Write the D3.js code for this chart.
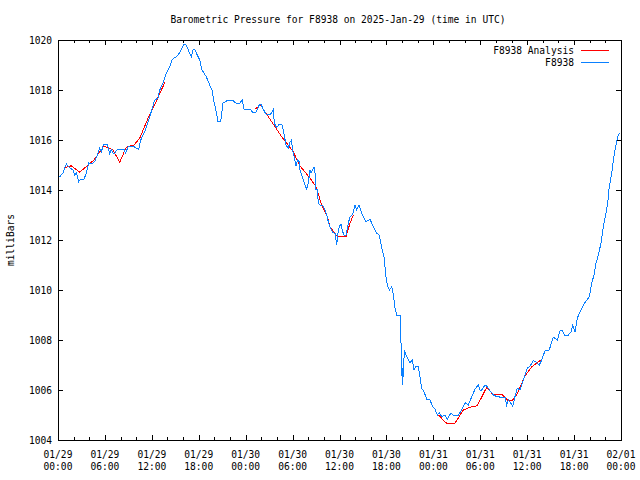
<!DOCTYPE html>
<html>
<head>
<meta charset="utf-8">
<script src="https://cdn.jsdelivr.net/npm/d3@7"></script>
<style>
  body { margin: 0; background: #fff; }
  svg { display: block; }
  text { font-family: "DejaVu Sans Mono", "Liberation Mono", monospace; font-size: 9.6px; fill: #000; }
</style>
</head>
<body>
<svg id="chart" width="640" height="480"></svg>
<script>
// ---- data (hours since 2025-01-29 00:00 UTC, pressure in millibars) ----
const stationHours = [0.22,0.64,0.86,1.06,1.50,1.92,2.14,2.34,2.65,2.90,3.33,3.62,3.93,4.26,4.69,5.03,5.33,5.54,5.84,6.30,6.61,6.82,7.16,7.58,8.44,8.66,8.95,9.72,10.01,10.32,10.58,11.09,11.51,11.93,12.37,12.79,13.01,13.43,13.85,14.28,14.62,15.13,15.56,16.11,16.41,16.75,17.05,17.26,17.48,17.81,18.12,18.42,18.97,19.40,19.69,19.95,20.24,20.46,20.81,21.10,21.74,22.38,22.60,23.15,23.57,23.79,24.55,24.90,25.32,25.74,25.96,26.25,26.60,27.20,27.53,27.66,27.97,28.26,28.61,28.81,29.16,29.45,29.67,29.89,29.96,30.22,30.44,30.65,30.86,30.95,31.29,31.59,31.81,32.01,32.23,32.36,32.57,32.74,32.87,33.00,33.16,33.29,33.51,33.85,34.15,34.36,34.57,34.79,35.13,35.42,35.64,35.77,35.97,36.19,36.41,36.58,36.83,37.13,37.34,37.69,37.98,38.20,38.49,38.84,39.39,39.90,40.32,40.76,41.09,41.40,41.69,41.95,42.11,42.37,42.68,42.80,42.97,43.10,43.32,43.74,43.83,43.96,44.03,44.08,44.16,44.29,44.51,44.80,45.02,45.31,45.53,45.75,46.08,46.30,46.51,46.81,47.15,47.57,47.92,48.21,48.51,48.76,49.07,49.49,49.79,50.26,50.55,51.19,51.63,52.05,52.47,52.91,53.33,53.75,53.97,54.19,54.61,54.83,55.25,55.67,56.18,56.74,57.17,57.38,57.59,57.80,58.15,58.44,58.74,59.08,59.30,59.72,60.02,60.36,60.78,61.13,61.55,61.86,62.28,62.83,63.14,63.34,63.86,64.20,64.54,64.75,65.26,65.61,65.82,66.12,66.41,66.76,67.18,67.95,68.25,68.55,68.80,69.10,69.44,69.74,70.08,70.30,70.50,70.81,71.02,71.23,71.45,71.66,71.87];
const stationPressure = [1014.53,1014.68,1014.88,1015.04,1014.88,1014.80,1014.60,1014.69,1014.33,1014.44,1014.44,1014.68,1015.08,1015.04,1015.13,1015.40,1015.68,1015.53,1015.83,1015.83,1015.47,1015.60,1015.43,1015.63,1015.63,1015.47,1015.73,1015.73,1015.67,1015.63,1016.00,1016.33,1016.73,1017.13,1017.60,1017.67,1018.00,1018.27,1018.67,1018.93,1019.23,1019.33,1019.49,1019.84,1019.80,1019.53,1019.33,1019.60,1019.63,1019.40,1019.20,1018.80,1018.53,1018.20,1018.00,1017.53,1017.13,1016.73,1016.73,1017.47,1017.60,1017.60,1017.49,1017.44,1017.60,1017.24,1017.24,1017.11,1017.11,1017.40,1017.43,1017.23,1017.03,1017.03,1017.23,1016.67,1016.49,1016.63,1016.63,1016.40,1015.80,1015.67,1015.93,1016.00,1015.63,1015.33,1014.96,1015.20,1015.13,1014.80,1014.47,1014.20,1014.03,1014.29,1014.80,1014.67,1014.83,1014.91,1014.67,1014.00,1014.03,1013.47,1013.40,1013.40,1013.20,1013.00,1012.73,1012.53,1012.29,1012.27,1011.80,1012.20,1012.53,1012.64,1012.33,1012.20,1012.20,1012.67,1012.93,1013.03,1013.40,1013.20,1013.40,1013.07,1012.73,1012.83,1012.53,1012.27,1012.20,1011.67,1011.33,1010.53,1010.20,1010.00,1010.13,1010.00,1009.60,1009.27,1009.00,1009.00,1008.27,1006.93,1006.20,1006.87,1006.53,1007.60,1007.40,1007.20,1007.09,1007.20,1006.80,1006.93,1006.93,1006.53,1006.07,1005.93,1005.63,1005.60,1005.33,1005.23,1005.00,1005.09,1004.93,1005.00,1004.83,1005.09,1005.00,1005.00,1005.20,1005.49,1005.40,1005.73,1006.03,1006.20,1006.00,1006.00,1006.20,1006.16,1005.97,1005.80,1005.73,1005.71,1005.71,1005.40,1005.60,1005.53,1005.36,1005.73,1006.07,1006.00,1006.20,1006.60,1006.87,1006.96,1007.17,1007.13,1007.00,1007.20,1007.57,1007.60,1007.93,1008.11,1008.00,1008.36,1008.37,1008.20,1008.20,1008.33,1008.60,1008.33,1008.87,1009.13,1009.40,1009.73,1010.27,1010.60,1011.07,1011.40,1011.87,1012.53,1013.07,1013.47,1014.13,1014.67,1015.20,1015.60,1015.93,1016.20,1016.27];

// analysis series: null marks a gap between analysis segments
const analysisHours = [0.86,1.70,2.78,3.84,4.60,5.88,7.03,7.89,8.73,9.72,10.45,11.51,12.15,13.21,13.72,null,25.19,25.92,26.47,27.75,28.61,30.09,30.86,32.23,33.00,33.72,34.44,34.79,35.64,36.83,37.34,37.77,null,48.64,49.27,49.79,50.77,51.83,52.69,53.62,54.83,55.67,56.31,56.87,57.46,58.02,58.66,59.72,60.58,61.86];
const analysisPressure = [1014.89,1014.97,1014.71,1015.00,1015.20,1015.76,1015.60,1015.11,1015.71,1015.80,1016.07,1016.87,1017.27,1018.00,1018.33,null,1017.24,1017.40,1017.13,1016.53,1016.13,1015.53,1015.00,1014.47,1014.13,1013.40,1012.93,1012.53,1012.16,1012.13,1012.67,1013.00,null,1005.00,1004.80,1004.64,1004.67,1005.20,1005.31,1005.37,1006.11,1005.80,1005.83,1005.80,1005.60,1005.56,1005.80,1006.56,1006.93,1007.23];

const xTickDates = ["01/29","01/29","01/29","01/29","01/30","01/30","01/30","01/30","01/31","01/31","01/31","01/31","02/01"];
const xTickTimes = ["00:00","06:00","12:00","18:00","00:00","06:00","12:00","18:00","00:00","06:00","12:00","18:00","00:00"];
const yTicks = [1004,1006,1008,1010,1012,1014,1016,1018,1020];
const seriesNames = ["F8938 Analysis","F8938"];
const seriesColors = ["#ff0000","#0a80ff"];
const titleText = "Barometric Pressure for F8938 on 2025-Jan-29 (time in UTC)";
const yLabel = "milliBars";

// ---- chart ----
const start = Date.UTC(2025,0,29,0,0);
const HOUR = 3600000;
const toDate = h => new Date(start + h*HOUR);
const L = 58, R = 621, T = 40, B = 440;

const svg = d3.select("#chart");
const x = d3.scaleUtc().domain([toDate(0), toDate(72)]).range([L, R]);
const y = d3.scaleLinear().domain([1004, 1020]).range([B, T]);

const majorTicks = xTickTimes.map((_, i) => toDate(i*6));
const minorTicks = d3.range(0, 73, 2).filter(h => h % 6 !== 0).map(toDate);

function strip(g){ g.select(".domain").remove(); g.selectAll("line").attr("stroke","#000").attr("shape-rendering","crispEdges"); }

// bottom & top ticks (pointing inward)
svg.append("g").attr("transform",`translate(0,${B})`)
  .call(d3.axisBottom(x).tickValues(majorTicks).tickSize(-5).tickFormat("")).call(strip);
svg.append("g").attr("transform",`translate(0,${B})`)
  .call(d3.axisBottom(x).tickValues(minorTicks).tickSize(-3).tickFormat("")).call(strip);
svg.append("g").attr("transform",`translate(0,${T})`)
  .call(d3.axisTop(x).tickValues(majorTicks).tickSize(-5).tickFormat("")).call(strip);
svg.append("g").attr("transform",`translate(0,${T})`)
  .call(d3.axisTop(x).tickValues(minorTicks).tickSize(-3).tickFormat("")).call(strip);

// left & right ticks
svg.append("g").attr("transform",`translate(${L},0)`)
  .call(d3.axisLeft(y).tickValues(yTicks).tickSize(-5).tickPadding(6).tickFormat(d3.format("d")))
  .call(strip)
  .call(g => g.selectAll("text").attr("font-family",null).attr("font-size",null).style("font-size","9.6px").attr("fill","#000"));
svg.append("g").attr("transform",`translate(${R},0)`)
  .call(d3.axisRight(y).tickValues(yTicks).tickSize(-5).tickFormat("")).call(strip);

// x tick labels (two lines)
const xl = svg.append("g");
majorTicks.forEach((d, i) => {
  xl.append("text").attr("x", x(d)).attr("y", 458).attr("text-anchor","middle").text(xTickDates[i]);
  xl.append("text").attr("x", x(d)).attr("y", 470).attr("text-anchor","middle").text(xTickTimes[i]);
});

// frame
svg.append("rect").attr("x",L).attr("y",T).attr("width",R-L).attr("height",B-T)
  .attr("fill","none").attr("stroke","#000").attr("shape-rendering","crispEdges");

// lines
const line = d3.line()
  .defined(d => d[1] != null)
  .x(d => x(toDate(d[0])))
  .y(d => y(d[1]));

const analysisData = analysisHours.map((h,i) => [h, analysisPressure[i]]);
const stationData = stationHours.map((h,i) => [h, stationPressure[i]]);

svg.append("path").datum(analysisData).attr("d", line)
  .attr("fill","none").attr("stroke",seriesColors[0]).attr("stroke-width",1).attr("shape-rendering","crispEdges");
svg.append("path").datum(stationData).attr("d", line)
  .attr("fill","none").attr("stroke",seriesColors[1]).attr("stroke-width",1).attr("shape-rendering","crispEdges");

// title
svg.append("text").attr("x", 338).attr("y", 23).attr("text-anchor","middle").text(titleText);

// y label
svg.append("text").attr("transform","translate(14,240) rotate(-90)").attr("text-anchor","middle").text(yLabel);

// legend
seriesNames.forEach((n, i) => {
  const ly = 50 + i*12;
  svg.append("text").attr("x", 574).attr("y", ly + 3.5).attr("text-anchor","end").text(n);
  svg.append("line").attr("x1", 581).attr("x2", 609).attr("y1", ly + 0.5).attr("y2", ly + 0.5)
    .attr("stroke", seriesColors[i]).attr("shape-rendering","crispEdges");
});
</script>
</body>
</html>
